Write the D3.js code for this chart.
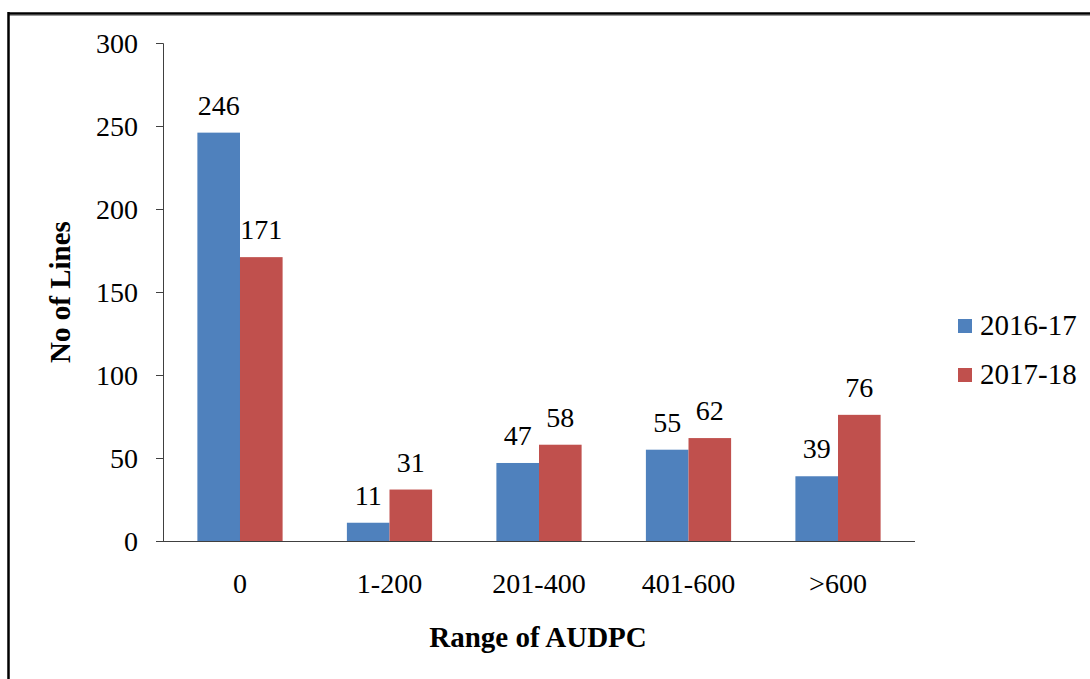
<!DOCTYPE html>
<html lang="en">
<head>
<meta charset="UTF-8">
<title>Range of AUDPC</title>
<script src="https://d3js.org/d3.v7.min.js"></script>
<style>
  body { margin: 0; background: #fff; }
  svg text { font-family: "Liberation Serif", "Times New Roman", serif; }
</style>
</head>
<body>
<div id="chart"></div>
<script>
var categories = ["0", "1-200", "201-400", "401-600", ">600"];
var seriesNames = ["2016-17", "2017-18"];
var values1617 = [246, 11, 47, 55, 39];
var values1718 = [171, 31, 58, 62, 76];
var yTicks = [0, 50, 100, 150, 200, 250, 300];
var colors = ["#4F81BD", "#C0504D"];

var width = 1090, height = 679;
var fontSize = 29;
var svg = d3.select("#chart").append("svg")
    .attr("width", width)
    .attr("height", height);

// outer frame (only top and left edges are visible in the picture)
svg.append("line").attr("x1", 8).attr("x2", width).attr("y1", 15.5).attr("y2", 15.5)
    .attr("stroke", "#999").attr("stroke-width", 1);
svg.append("line").attr("x1", 8).attr("x2", width).attr("y1", 13.5).attr("y2", 13.5)
    .attr("stroke", "#000").attr("stroke-width", 2.5);
svg.append("line").attr("x1", 8.5).attr("x2", 8.5).attr("y1", 12).attr("y2", height)
    .attr("stroke", "#000").attr("stroke-width", 2.5);

var plot = { left: 163, right: 915, top: 43, bottom: 541 };

var x = d3.scaleBand()
    .domain(categories)
    .range([plot.left, plot.right])
    .paddingInner(0.43)
    .paddingOuter(0.23);

var xSub = d3.scaleBand()
    .domain(seriesNames)
    .range([0, x.bandwidth()]);

var y = d3.scaleLinear()
    .domain([0, 300])
    .range([plot.bottom, plot.top]);

// y axis
var yAxis = svg.append("g")
    .attr("transform", "translate(" + plot.left + ",0)")
    .call(d3.axisLeft(y).tickValues(yTicks).tickSize(7).tickPadding(18));
yAxis.select(".domain").attr("stroke", "#404040");
yAxis.selectAll(".tick line").attr("stroke", "#404040");
yAxis.selectAll(".tick text")
    .attr("font-size", fontSize - 1)
    .attr("fill", "#000")
    .attr("dy", "0.34em");

var series = [values1617, values1718];

series.forEach(function(vals, si) {
    var g = svg.append("g");
    g.selectAll("rect")
        .data(vals)
        .enter()
        .append("rect")
        .attr("x", (d, i) => x(categories[i]) + xSub(seriesNames[si]))
        .attr("y", d => y(d))
        .attr("width", xSub.bandwidth())
        .attr("height", d => y(0) - y(d))
        .attr("fill", colors[si]);
    g.selectAll("text")
        .data(vals)
        .enter()
        .append("text")
        .attr("x", (d, i) => x(categories[i]) + xSub(seriesNames[si]) + xSub.bandwidth() / 2)
        .attr("y", d => y(d) - 18)
        .attr("text-anchor", "middle")
        .attr("font-size", fontSize - 1)
        .text(d => d);
});

// x axis
var xAxis = svg.append("g")
    .attr("transform", "translate(0," + plot.bottom + ")")
    .call(d3.axisBottom(x).tickSize(0).tickPadding(32).tickSizeOuter(0));
xAxis.select(".domain").attr("stroke", "#404040").attr("d", "M" + (plot.left - 7) + ",0.5H" + plot.right);
xAxis.selectAll(".tick text")
    .attr("font-size", fontSize - 1)
    .attr("fill", "#000");

// axis titles
svg.append("text")
    .attr("transform", "translate(70,292) rotate(-90)")
    .attr("text-anchor", "middle")
    .attr("font-size", fontSize)
    .attr("font-weight", "bold")
    .text("No of Lines");

svg.append("text")
    .attr("x", 538)
    .attr("y", 647)
    .attr("text-anchor", "middle")
    .attr("font-size", fontSize)
    .attr("font-weight", "bold")
    .text("Range of AUDPC");

// legend
var legend = svg.append("g");
seriesNames.forEach(function(name, i) {
    var ly = 326 + i * 49;
    legend.append("rect")
        .attr("x", 958).attr("y", ly - 7)
        .attr("width", 14).attr("height", 14)
        .attr("fill", colors[i]);
    legend.append("text")
        .attr("x", 980).attr("y", ly + 9)
        .attr("font-size", fontSize)
        .text(name);
});
</script>
</body>
</html>
